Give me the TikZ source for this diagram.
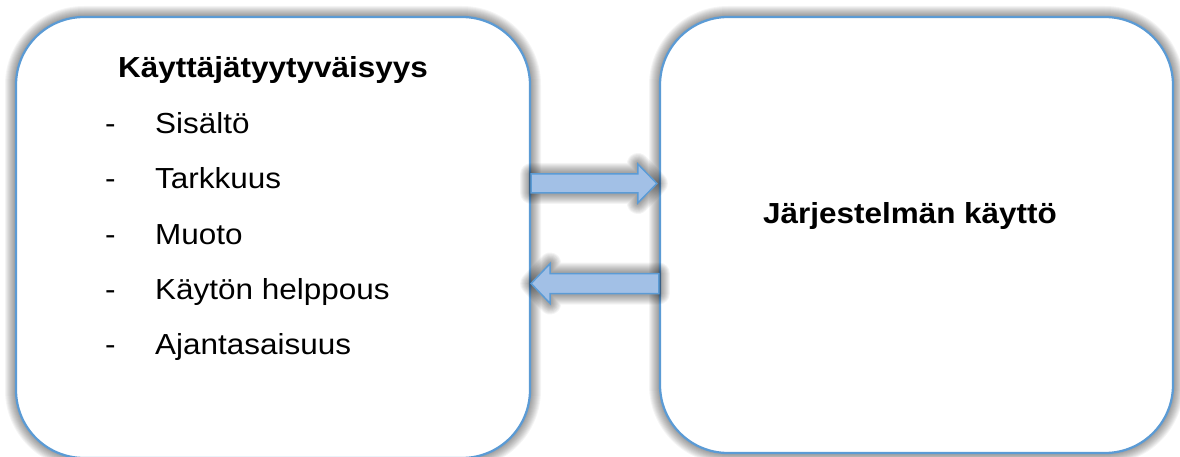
\documentclass[tikz,border=0pt]{standalone}
\usepackage{fontspec}
\setmainfont{Liberation Sans}
\usetikzlibrary{calc}

\definecolor{edgeblue}{HTML}{5B9BD5}
\definecolor{arrowblue}{HTML}{A2C0E6}

% slightly widened lettering
\newcommand\widetext[1]{\scalebox{1.085}[1]{#1}}

\tikzset{
  halo/.style={preaction={draw=black,line width=#1,opacity=0.045,line join=round}},
  glow/.style={halo=22pt,halo=20pt,halo=18pt,halo=16pt,halo=14pt,
    halo=12pt,halo=10pt,halo=8pt,halo=6pt,halo=4pt},
  panel/.style={glow, draw=edgeblue, line width=2.25pt, fill=white,
    rounded corners=68pt, inner sep=0pt},
  blockarrow/.style={glow, draw=edgeblue, line width=1.5pt, fill=arrowblue,
    line join=miter},
  heading/.style={font=\fontsize{29}{35}\selectfont\bfseries, inner sep=0pt, anchor=base},
  entry/.style={font=\fontsize{29}{35}\selectfont, inner sep=0pt, anchor=base west},
}

\begin{document}
\begin{tikzpicture}[x=1pt,y=-1pt]
\useasboundingbox (0,0) rectangle (1180,457);

% the two panels
\node[panel, minimum width=514pt, minimum height=441pt] (L) at (273,237.5) {};
\node[panel, minimum width=513pt, minimum height=436pt] (R) at (916.5,235) {};

% headings
\node[heading] (Lt) at (273,78) {\widetext{Käyttäjätyytyväisyys}};
\node[heading] (Rt) at (910,223) {\widetext{Järjestelmän käyttö}};

% list of criteria
\node[entry] (e1) at (105,134) {\makebox[50pt][l]{\widetext{-}}\widetext{Sisältö}};
\node[entry] (e2) at (105,189) {\makebox[50pt][l]{\widetext{-}}\widetext{Tarkkuus}};
\node[entry] (e3) at (105,244) {\makebox[50pt][l]{\widetext{-}}\widetext{Muoto}};
\node[entry] (e4) at (105,299) {\makebox[50pt][l]{\widetext{-}}\widetext{Käytön helppous}};
\node[entry] (e5) at (105,354) {\makebox[50pt][l]{\widetext{-}}\widetext{Ajantasaisuus}};

% levels of the two block arrows
\coordinate (ya) at (0,183.5);
\coordinate (yb) at (0,283.5);
\path (L.east |- ya) coordinate (a1) (R.west |- ya) coordinate (a2);
\path (L.east |- yb) coordinate (b1) (R.west |- yb) coordinate (b2);

% left panel -> right panel
\draw[blockarrow] ($(a1)+(0,-9.5)$) -- ($(a2)+(-21,-9.5)$) -- ($(a2)+(-21,-19.5)$)
  -- ($(a2)+(-2,0)$) -- ($(a2)+(-21,19.5)$) -- ($(a2)+(-21,9.5)$)
  -- ($(a1)+(0,9.5)$) -- cycle;

% right panel -> left panel
\draw[blockarrow] ($(b2)+(0,-10)$) -- ($(b1)+(19,-10)$) -- ($(b1)+(19,-20)$)
  -- (b1) -- ($(b1)+(19,20)$) -- ($(b1)+(19,10)$)
  -- ($(b2)+(0,10)$) -- cycle;
\end{tikzpicture}
\end{document}
